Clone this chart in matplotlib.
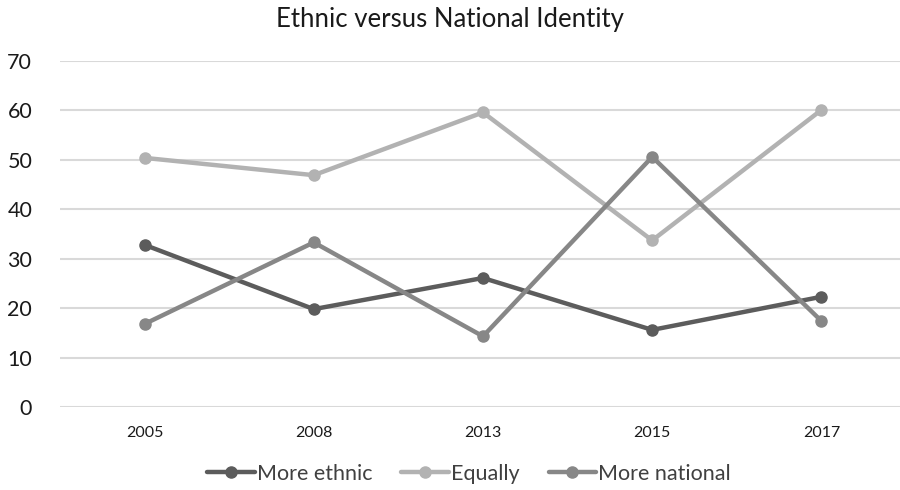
import matplotlib
matplotlib.use("Agg")
import matplotlib.pyplot as plt

plt.rcParams['font.family'] = ['Lato', 'DejaVu Sans']

years = ["2005", "2008", "2013", "2015", "2017"]
more_ethnic = [32.8, 19.8, 26.1, 15.6, 22.3]
equally = [50.4, 46.9, 59.6, 33.7, 60.1]
more_national = [16.8, 33.3, 14.3, 50.6, 17.4]

series = [
    ("More ethnic", more_ethnic, "#5c5c5c"),
    ("Equally", equally, "#b2b2b2"),
    ("More national", more_national, "#878787"),
]

fig = plt.figure(figsize=(9, 4.9), dpi=100)
ax = fig.add_axes([60 / 900, 83 / 490, 846 / 900, 346 / 490])

x = list(range(len(years)))
for name, vals, col in series:
    ax.plot(x, vals, color=col, linewidth=3.2, marker="o", markersize=8,
            label=name, solid_capstyle="round", clip_on=False)

ax.set_xlim(-0.5, len(years) - 0.5)
ax.set_ylim(0, 70)
ax.set_yticks(range(0, 71, 10))
ax.set_xticks(x)
ax.set_xticklabels(years, fontsize=11.5)
ax.tick_params(axis="y", labelsize=15.5, length=0, pad=20, labelcolor="#1a1a1a")
ax.tick_params(axis="x", length=0, pad=14, labelcolor="#1a1a1a")
ax.grid(axis="y", color="#d9d9d9", linewidth=1.5)
ax.set_axisbelow(True)
for s in ax.spines.values():
    s.set_visible(False)

fig.text(0.5, 1 - 20 / 490, "Ethnic versus National Identity", ha="center",
         va="center", fontsize=18.5, color="#1a1a1a")

fig.legend(loc="center", bbox_to_anchor=(469 / 900, 1 - 474 / 490), ncol=3,
           frameon=False, fontsize=15.5, handlelength=2.2, columnspacing=1.35,
           handletextpad=0.1, labelcolor="#404040")

fig.savefig("out.png", dpi=100, facecolor="white")
